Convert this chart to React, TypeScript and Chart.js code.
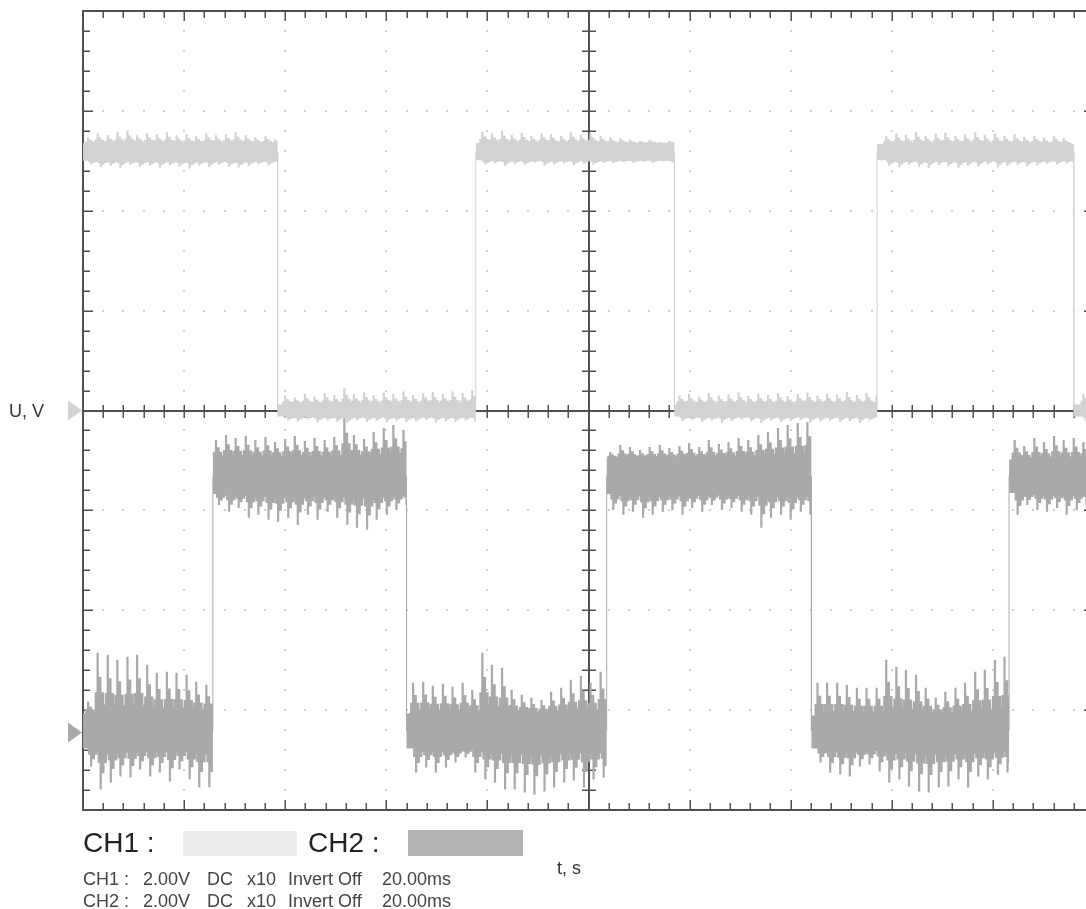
import React, { useEffect, useRef } from 'react';
import { Chart, registerables } from 'chart.js';

Chart.register(...registerables);

// ---- axes (10 div x 20 ms, 8 div x 2 V) ----
const timeMin = 0;
const timeMax = 200;
const voltMin = -8;
const voltMax = 8;
const minorTimeStep = 4;
const majorTimeStep = 20;
const minorVoltStep = 0.4;
const majorVoltStep = 2;

// ---- channel reference (zero) levels on screen, volts ----
const ch1Zero = 0;
const ch2Zero = -6.45;

// ---- CH1 : square wave (ms, V) ----
const ch1Edges = [38.5, 77.7, 117.0, 157.1, 196.0];
const ch1Levels = [5.18, 0.0, 5.18, 0.0, 5.18, 0.0];
const ch1BandTop = [5.35, 0.12, 5.35, 0.12, 5.34, 0.12];
const ch1BandBottom = [5.0, -0.12, 5.01, -0.12, 5.01, -0.12];

// ---- CH2 : square wave (ms, V) ----
const ch2Edges = [25.7, 64.0, 103.6, 144.1, 183.2];
const ch2Levels = [0.04, 5.13, 0.04, 5.13, 0.04, 5.13];
const ch2BandTop = [0.38, 5.5, 0.38, 5.5, 0.34, 5.47];
const ch2BandBottom = [-0.32, 4.78, -0.32, 4.78, -0.32, 4.8];

// ---- switching spikes (ms) ----
const spikeT = [
  1.0, 2.9, 4.9, 6.8, 8.8, 10.7, 12.7, 14.6, 16.6, 18.5,
  20.5, 22.4, 24.4, 26.3, 28.3, 30.2, 32.2, 34.1, 36.1, 38.0,
  40.0, 41.9, 43.9, 45.8, 47.8, 49.7, 51.7, 53.6, 55.6, 57.5,
  59.5, 61.4, 63.4, 65.3, 67.3, 69.2, 71.2, 73.1, 75.1, 77.0,
  79.0, 80.9, 82.9, 84.8, 86.8, 88.7, 90.7, 92.6, 94.6, 96.5,
  98.5, 100.4, 102.4, 104.3, 106.3, 108.2, 110.2, 112.1, 114.1, 116.0,
  118.0, 119.9, 121.9, 123.8, 125.8, 127.7, 129.7, 131.6, 133.6, 135.5,
  137.5, 139.4, 141.4, 143.3, 145.3, 147.2, 149.2, 151.1, 153.1, 155.0,
  157.0, 158.9, 160.9, 162.8, 164.8, 166.7, 168.7, 170.6, 172.6, 174.5,
  176.5, 178.4, 180.4, 182.3, 184.3, 186.2, 188.2, 190.1, 192.1, 194.0,
  196.0, 197.9,
];

const ch1SpikeHi = [
  5.47, 5.55, 5.51, 5.57, 5.61, 5.51, 5.55, 5.53, 5.57, 5.51, 5.53, 5.49, 5.55, 5.51, 5.53, 5.57, 5.51, 5.47, 5.49, 5.43,
  0.30, 0.26, 0.33, 0.28, 0.35, 0.31, 0.45, 0.33, 0.37, 0.30, 0.36, 0.33, 0.38, 0.31, 0.35, 0.37, 0.33, 0.38, 0.35, 0.40,
  5.58, 5.55, 5.60, 5.52, 5.56, 5.50, 5.55, 5.53, 5.50, 5.57, 5.52, 5.55, 5.50, 5.47, 5.45, 5.42, 5.40, 5.42, 5.38, 5.40,
  0.30, 0.33, 0.28, 0.35, 0.30, 0.32, 0.36, 0.30, 0.34, 0.31, 0.35, 0.29, 0.33, 0.36, 0.30, 0.34, 0.32, 0.37, 0.31, 0.35, 0.30,
  5.50, 5.55, 5.52, 5.58, 5.50, 5.54, 5.56, 5.50, 5.53, 5.57, 5.52, 5.55, 5.50, 5.53, 5.48, 5.50, 5.46, 5.49, 5.45,
  0.30, 0.33,
];
const ch1SpikeLo = [
  4.93, 4.87, 4.90, 4.86, 4.92, 4.88, 4.90, 4.86, 4.91, 4.88, 4.85, 4.90, 4.87, 4.92, 4.88, 4.86, 4.90, 4.93, 4.91, 4.95,
  -0.20, -0.22, -0.18, -0.24, -0.20, -0.22, -0.25, -0.19, -0.23, -0.21, -0.24, -0.20, -0.23, -0.22, -0.19, -0.24, -0.21, -0.23, -0.20, -0.22,
  4.92, 4.95, 4.90, 4.94, 4.92, 4.96, 4.90, 4.93, 4.95, 4.91, 4.94, 4.92, 4.96, 4.95, 4.97, 4.96, 4.98, 4.96, 4.99, 4.97,
  -0.21, -0.19, -0.23, -0.20, -0.24, -0.21, -0.18, -0.22, -0.25, -0.20, -0.23, -0.21, -0.19, -0.24, -0.22, -0.20, -0.23, -0.21, -0.25, -0.20, -0.22,
  4.90, 4.87, 4.92, 4.88, 4.85, 4.91, 4.89, 4.86, 4.90, 4.88, 4.93, 4.87, 4.90, 4.92, 4.89, 4.91, 4.94, 4.92, 4.95,
  -0.20, -0.22,
];

const ch2SpikeHi = [
  0.62, 1.60, 1.56, 1.46, 1.52, 1.56, 1.36, 1.20, 1.22, 1.20, 1.16, 1.02, 0.96,
  5.86, 5.96, 5.90, 5.94, 5.86, 5.92, 5.82, 5.88, 5.94, 5.84, 5.90, 5.86, 5.92, 6.34, 5.96, 5.88, 6.02, 6.10, 6.16, 6.06,
  1.00, 1.02, 0.94, 0.98, 0.92, 1.00, 0.86, 1.60, 1.36, 1.30, 0.86, 0.76, 0.70, 0.66, 0.82, 0.90, 1.06, 1.14, 1.00, 1.22,
  5.62, 5.76, 5.72, 5.66, 5.72, 5.76, 5.70, 5.74, 5.80, 5.72, 5.86, 5.78, 5.82, 5.90, 5.86, 5.96, 6.02, 6.10, 6.16, 6.20, 6.22,
  1.00, 1.00, 1.00, 0.96, 0.90, 0.90, 0.90, 1.46, 1.32, 1.26, 1.16, 0.90, 0.70, 0.82, 0.90, 1.00, 1.22, 1.26, 1.46, 1.52,
  5.86, 5.74, 5.90, 5.82, 5.94, 5.86, 5.90, 5.82,
];
const ch2SpikeLo = [
  -0.68, -1.14, -1.00, -0.88, -0.90, -0.74, -0.88, -0.80, -0.98, -0.74, -0.94, -1.10, -1.10,
  4.56, 4.42, 4.50, 4.30, 4.36, 4.26, 4.22, 4.30, 4.16, 4.36, 4.26, 4.42, 4.30, 4.16, 4.10, 4.06, 4.26, 4.36, 4.46, 4.56,
  -0.80, -0.70, -0.80, -0.70, -0.60, -0.50, -0.80, -0.94, -1.00, -1.14, -1.14, -1.20, -1.24, -1.18, -1.10, -1.00, -0.96, -1.10, -0.94, -0.90,
  4.46, 4.36, 4.42, 4.30, 4.36, 4.42, 4.46, 4.36, 4.50, 4.42, 4.56, 4.46, 4.50, 4.42, 4.36, 4.10, 4.30, 4.36, 4.26, 4.42, 4.36,
  -0.60, -0.80, -0.84, -0.88, -0.68, -0.64, -0.78, -1.00, -0.94, -1.08, -1.18, -1.20, -1.10, -1.08, -0.94, -1.10, -0.88, -0.94, -0.84, -0.80,
  4.36, 4.56, 4.46, 4.42, 4.50, 4.36, 4.46, 4.56,
];

// ---- text ----
const yAxisLabel = 'U, V';
const xAxisLabel = 't, s';
const legendNames = ['CH1 :', 'CH2 :'];
const ch1Info = ['CH1 :', '2.00V', 'DC', 'x10', 'Invert Off', '20.00ms'];
const ch2Info = ['CH2 :', '2.00V', 'DC', 'x10', 'Invert Off', '20.00ms'];

// ---- styling / layout ----
const CH1_COLOR = '#d2d2d2';
const CH2_COLOR = '#a9a9a9';
const GRID_COLOR = '#505050';
const DOT_COLOR = '#d0d0d0';
const CANVAS_W = 1110;
const CANVAS_H = 909;
const infoX = [83, 143, 207, 247, 288, 382];
// spike shape: [time offset (ms), fraction of the spike height]
const SPIKE_SHAPE: [number, number][] = [
  [-0.6, 0], [-0.6, 0.35], [-0.22, 0.35], [-0.22, 1], [0.22, 1], [0.22, 0.6],
  [0.75, 0.6], [0.75, 0.35], [1.25, 0.35], [1.25, 0.15], [1.6, 0.15], [1.6, 0],
];
const LOW_SPIKE_DELAY = 0.6;

type Pt = { x: number; y: number };

function stepPoints(edges: number[], values: number[], zero: number) {
  const pts: Pt[] = [];
  let start = timeMin;
  values.forEach((v, i) => {
    const end = i < edges.length ? edges[i] : timeMax;
    pts.push({ x: start, y: v + zero }, { x: end, y: v + zero });
    start = end;
  });
  return pts;
}

// band edge of one channel with the read spikes on it
function envelope(edges: number[], band: number[], spikes: number[], zero: number, delay: number) {
  const pts: Pt[] = [];
  let start = timeMin;
  band.forEach((b, k) => {
    const end = k < edges.length ? edges[k] : timeMax;
    pts.push({ x: start, y: b + zero });
    spikeT.forEach((t, i) => {
      if (t <= start || t >= end) return;
      const d = spikes[i] - b;
      for (const [dt, f] of SPIKE_SHAPE) {
        const x = Math.min(end, Math.max(start, t + delay + dt));
        pts.push({ x, y: b + f * d + zero });
      }
    });
    pts.push({ x: end, y: b + zero });
    start = end;
  });
  return pts;
}

function channelDatasets(
  edges: number[], levels: number[], top: number[], bottom: number[],
  hi: number[], lo: number[], zero: number, color: string, baseOrder: number,
) {
  return [
    {
      data: envelope(edges, top, hi, zero, 0),
      borderWidth: 0,
      pointRadius: 0,
      fill: false,
      order: baseOrder + 1,
    },
    {
      data: envelope(edges, bottom, lo, zero, LOW_SPIKE_DELAY),
      borderWidth: 0,
      pointRadius: 0,
      backgroundColor: color,
      fill: '-1',
      order: baseOrder + 1,
    },
    {
      data: stepPoints(edges, levels, zero),
      borderColor: color,
      borderWidth: 1,
      pointRadius: 0,
      fill: false,
      order: baseOrder,
    },
  ];
}

const graticule = {
  id: 'graticule',
  beforeDatasetsDraw(chart: any) {
    const { ctx, chartArea: a, scales } = chart;
    const xs = scales.x;
    const ys = scales.y;
    const px = (t: number) => xs.getPixelForValue(t);
    const py = (v: number) => ys.getPixelForValue(v);
    const nT = Math.round((timeMax - timeMin) / minorTimeStep);
    const nV = Math.round((voltMax - voltMin) / minorVoltStep);
    const perMajorT = Math.round(majorTimeStep / minorTimeStep);
    const perMajorV = Math.round(majorVoltStep / minorVoltStep);
    ctx.save();
    ctx.fillStyle = DOT_COLOR;
    for (let i = 0; i <= nT; i += perMajorT) {
      for (let j = 0; j <= nV; j++) {
        ctx.fillRect(Math.round(px(timeMin + i * minorTimeStep)) - 1, Math.round(py(voltMin + j * minorVoltStep)) - 1, 2, 2);
      }
    }
    for (let j = 0; j <= nV; j += perMajorV) {
      for (let i = 0; i <= nT; i++) {
        ctx.fillRect(Math.round(px(timeMin + i * minorTimeStep)) - 1, Math.round(py(voltMin + j * minorVoltStep)) - 1, 2, 2);
      }
    }
    ctx.strokeStyle = GRID_COLOR;
    ctx.lineWidth = 2;
    ctx.strokeRect(Math.round(a.left), Math.round(a.top), Math.round(a.right - a.left), Math.round(a.bottom - a.top));
    ctx.lineWidth = 1.5;
    ctx.beginPath();
    const xc = Math.round(px((timeMin + timeMax) / 2));
    const yc = Math.round(py((voltMin + voltMax) / 2));
    for (let i = 0; i <= nT; i++) {
      const x = Math.round(px(timeMin + i * minorTimeStep)) + 0.25;
      const len = i % perMajorT === 0 ? 10 : 7;
      ctx.moveTo(x, a.top); ctx.lineTo(x, a.top + len);
      ctx.moveTo(x, a.bottom); ctx.lineTo(x, a.bottom - len);
      ctx.moveTo(x, yc - 6); ctx.lineTo(x, yc + 7);
    }
    for (let j = 0; j <= nV; j++) {
      const y = Math.round(py(voltMin + j * minorVoltStep)) + 0.25;
      const len = j % perMajorV === 0 ? 10 : 7;
      ctx.moveTo(a.left, y); ctx.lineTo(a.left + len, y);
      ctx.moveTo(a.right, y); ctx.lineTo(a.right - len, y);
      ctx.moveTo(xc - 7, y); ctx.lineTo(xc + 7, y);
    }
    ctx.stroke();
    ctx.lineWidth = 2;
    ctx.beginPath();
    ctx.moveTo(a.left, yc); ctx.lineTo(a.right, yc);
    ctx.moveTo(xc, a.top); ctx.lineTo(xc, a.bottom);
    ctx.stroke();
    ctx.restore();
  },
  afterDraw(chart: any) {
    const { ctx, chartArea: a, scales } = chart;
    const marks: [number, string][] = [[ch1Zero, CH1_COLOR], [ch2Zero, CH2_COLOR]];
    ctx.save();
    for (const [v, c] of marks) {
      const y = scales.y.getPixelForValue(v);
      ctx.fillStyle = c;
      ctx.beginPath();
      ctx.moveTo(a.left - 15, y - 10);
      ctx.lineTo(a.left - 1, y);
      ctx.lineTo(a.left - 15, y + 10);
      ctx.closePath();
      ctx.fill();
    }
    ctx.restore();
  },
};

export default function App() {
  const ref = useRef<HTMLCanvasElement>(null);

  useEffect(() => {
    const canvas = ref.current;
    if (!canvas) return;
    const datasets = [
      ...channelDatasets(ch1Edges, ch1Levels, ch1BandTop, ch1BandBottom, ch1SpikeHi, ch1SpikeLo, ch1Zero, CH1_COLOR, 0),
      ...channelDatasets(ch2Edges, ch2Levels, ch2BandTop, ch2BandBottom, ch2SpikeHi, ch2SpikeLo, ch2Zero, CH2_COLOR, 10),
    ];
    const chart = new Chart(canvas, {
      type: 'line',
      data: { datasets: datasets as any },
      options: {
        animation: false,
        responsive: false,
        devicePixelRatio: 1,
        events: [],
        elements: { line: { tension: 0 } },
        layout: { padding: { left: 83, top: 11, right: CANVAS_W - 1094, bottom: CANVAS_H - 810 } },
        scales: {
          x: { type: 'linear', min: timeMin, max: timeMax, display: false },
          y: { type: 'linear', min: voltMin, max: voltMax, display: false },
        },
        plugins: {
          legend: { display: false },
          tooltip: { enabled: false },
        },
      },
      plugins: [graticule],
    });
    return () => chart.destroy();
  }, []);

  const font = '"Liberation Sans", Arial, Helvetica, sans-serif';
  const txt = (left: number, top: number, size: number, color: string): React.CSSProperties => ({
    position: 'absolute', left, top, fontSize: size, lineHeight: `${size}px`, color, whiteSpace: 'pre', fontFamily: font,
  });

  return (
    <div style={{ position: 'absolute', left: 0, top: 0, width: 1086, height: 909, overflow: 'hidden', background: '#ffffff' }}>
      <canvas ref={ref} width={CANVAS_W} height={CANVAS_H} style={{ position: 'absolute', left: 0, top: 0, width: CANVAS_W, height: CANVAS_H }} />
      <div style={txt(9, 402, 18, '#333')}>{yAxisLabel}</div>
      <div style={txt(557, 859, 18, '#333')}>{xAxisLabel}</div>
      <div style={txt(83, 829, 28, '#222')}>{legendNames[0]}</div>
      <div style={{ position: 'absolute', left: 183, top: 831, width: 114, height: 25, background: '#ededed' }} />
      <div style={txt(308, 829, 28, '#222')}>{legendNames[1]}</div>
      <div style={{ position: 'absolute', left: 408, top: 830, width: 115, height: 26, background: '#b3b3b3' }} />
      {ch1Info.map((s, i) => (
        <div key={'a' + i} style={txt(infoX[i], 870, 18, '#444')}>{s}</div>
      ))}
      {ch2Info.map((s, i) => (
        <div key={'b' + i} style={txt(infoX[i], 892, 18, '#444')}>{s}</div>
      ))}
    </div>
  );
}
